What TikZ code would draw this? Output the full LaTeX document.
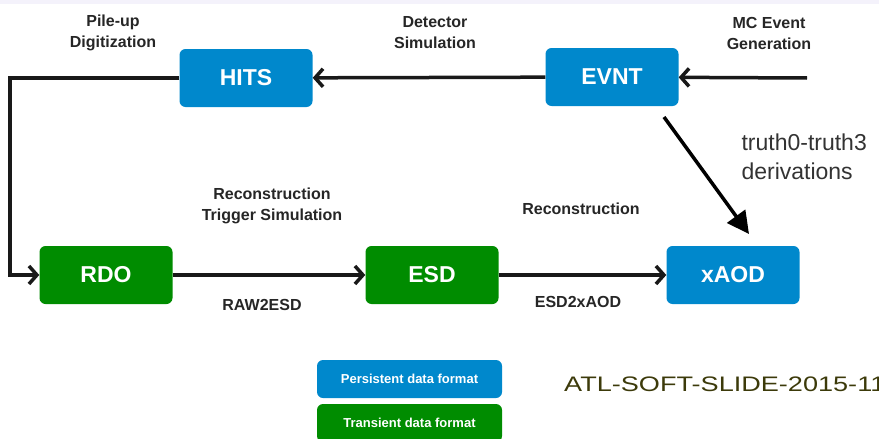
\documentclass[tikz,border=0pt]{standalone}
\usepackage{fontspec}
\setmainfont{Liberation Sans}
\usetikzlibrary{arrows.meta}
\definecolor{persist}{RGB}{0,136,204}
\definecolor{transient}{RGB}{0,140,0}
\definecolor{slidetext}{RGB}{60,58,10}
\definecolor{topstrip}{RGB}{244,242,251}
\tikzset{
  fmt/.style={rounded corners=6pt, minimum width=133pt, minimum height=58pt, inner sep=0pt,
    text=white, font=\bfseries\fontsize{23}{25}\selectfont},
  persistent/.style={fmt, fill=persist},
  transient/.style={fmt, fill=transient},
  legend/.style={minimum width=185pt, minimum height=38pt, font=\bfseries\fontsize{13}{15}\selectfont},
  steplabel/.style={align=center, text=black!85, font=\bfseries\fontsize{16}{21}\selectfont},
  flow/.style={line width=3.5pt, black!90, -{Straight Barb[length=8pt,width=18pt,line width=3.5pt]}},
  truthflow/.style={line width=3.5pt, black, -{Triangle[length=22pt,width=22pt]}}
}
\begin{document}
\begin{tikzpicture}[x=1pt, y=-1pt]
    \useasboundingbox (0,0) rectangle (879,439);
    \fill[topstrip] (0,0) rectangle (879,4);
    % data formats
    \node[persistent] (HITS) at (246,78) {HITS};
    \node[persistent] (EVNT) at (612,77) {EVNT};
    \node[transient] (RDO) at (106,275) {RDO};
    \node[transient] (ESD) at (432,275) {ESD};
    \node[persistent] (xAOD) at (733,275) {xAOD};
    \coordinate (mcin) at (807,78);
    \coordinate (turn) at (10,78);
    \coordinate (truthstart) at (664,117);
    \coordinate (truthend) at (749,234);
    % step labels
    \node[steplabel] (pileup) at (113,33) {Pile-up\\Digitization};
    \node[steplabel] (detsim) at (435,33) {Detector\\Simulation};
    \node[steplabel] (mcgen) at (769,33) {MC Event\\Generation};
    \node[steplabel] (recotrig) at (272,206) {Reconstruction\\Trigger Simulation};
    \node[steplabel] (reco) at (581,209) {Reconstruction};
    \node[steplabel] (raw2esd) at (262,305) {RAW2ESD};
    \node[steplabel] (esd2xaod) at (578,302) {ESD2xAOD};
    \node[anchor=west, align=left, text=black!80, font=\fontsize{23}{29}\selectfont] (truth) at (738,157) {truth0-truth3\\derivations};
    % arrows
    \draw[flow] (mcin) -- (EVNT);
    \draw[flow] (EVNT) -- (HITS);
    \draw[flow] (HITS.west) -- (turn) |- (RDO.west);
    \draw[flow] (RDO) -- (ESD);
    \draw[flow] (ESD) -- (xAOD);
    \draw[truthflow] (truthstart) -- (truthend);
    % legend
    \node[persistent, legend] (legpersist) at (409.5,379) {Persistent data format};
    \node[transient, legend] (legtransient) at (409.5,423) {Transient data format};
    \node[anchor=west, text=slidetext, inner sep=0pt] (slideid) at (564,384)
        {\scalebox{1.29}[1]{\fontsize{21}{24}\selectfont ATL-SOFT-SLIDE-2015-11}};
\end{tikzpicture}
\end{document}
